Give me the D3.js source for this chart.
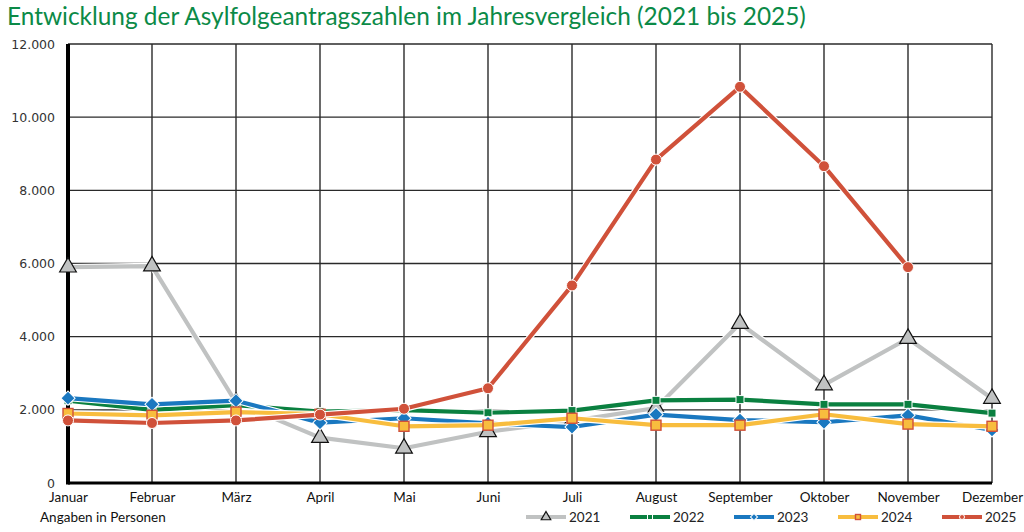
<!DOCTYPE html>
<html>
<head>
<meta charset="utf-8">
<script src="https://cdn.jsdelivr.net/npm/d3@7.9.0/dist/d3.min.js"></script>
<style>
  body { margin: 0; background: #fff; }
  svg { display: block; }
</style>
</head>
<body>
<svg width="1024" height="532"></svg>
<script>
const months = ['Januar', 'Februar', 'März', 'April', 'Mai', 'Juni', 'Juli',
  'August', 'September', 'Oktober', 'November', 'Dezember'];
const yTicks = [0, 2000, 4000, 6000, 8000, 10000, 12000];

const v2021 = [5900, 5930, 2200, 1240, 950, 1400, 1700, 2050, 4360, 2680, 3950, 2310];
const v2022 = [2250, 2000, 2130, 1950, 1990, 1920, 1980, 2260, 2280, 2150, 2150, 1910];
const v2023 = [2320, 2150, 2250, 1650, 1770, 1630, 1530, 1870, 1720, 1660, 1850, 1450];
const v2024 = [1900, 1850, 1940, 1880, 1550, 1580, 1770, 1580, 1580, 1880, 1610, 1550];
const v2025 = [1710, 1640, 1710, 1870, 2030, 2590, 5400, 8840, 10830, 8660, 5900];

const series = [
  { name: '2021', values: v2021, color: '#c0c2c2', marker: 'triangle' },
  { name: '2022', values: v2022, color: '#0a8040', marker: 'square' },
  { name: '2023', values: v2023, color: '#1a78c0', marker: 'diamond' },
  { name: '2024', values: v2024, color: '#f8bd3e', marker: 'square2' },
  { name: '2025', values: v2025, color: '#d0513a', marker: 'circle' }
];

const svg = d3.select('svg');
const margin = { left: 68, right: 32, top: 44, bottom: 49 };
const W = 1024, H = 532;

const x = d3.scalePoint().domain(months).range([margin.left, W - margin.right]);
const y = d3.scaleLinear().domain([0, 12000]).range([H - margin.bottom, margin.top]);
const fmt = d3.format(',');
const deFmt = v => fmt(v).replace(/,/g, '.');

// title
svg.append('text')
  .attr('x', 7).attr('y', 25)
  .attr('fill', '#0b8a47')
  .style('font-family', 'Lato, sans-serif')
  .style('font-size', '24.4px')
  .text('Entwicklung der Asylfolgeantragszahlen im Jahresvergleich (2021 bis 2025)');

// grid
const grid = svg.append('g');
grid.selectAll('.hg').data(yTicks.slice(1)).join('line')
  .attr('x1', margin.left).attr('x2', W - margin.right)
  .attr('y1', d => y(d)).attr('y2', d => y(d))
  .attr('stroke', '#2a2a2a').attr('stroke-width', 1.4);
grid.selectAll('.vg').data(months.slice(1)).join('line')
  .attr('x1', d => x(d)).attr('x2', d => x(d))
  .attr('y1', y(12000)).attr('y2', y(0))
  .attr('stroke', '#2a2a2a').attr('stroke-width', 1.4);

// axes
const yAxis = svg.append('g')
  .attr('transform', `translate(${margin.left},0)`)
  .call(d3.axisLeft(y).tickValues(yTicks).tickFormat(deFmt).tickSize(0).tickPadding(13));
yAxis.select('.domain').remove();
yAxis.selectAll('text')
  .style('font-family', '"DejaVu Sans", sans-serif')
  .style('font-size', '12.5px')
  .attr('fill', '#333');

const xAxis = svg.append('g')
  .attr('transform', `translate(0,${y(0)})`)
  .call(d3.axisBottom(x).tickSize(0).tickPadding(9));
xAxis.select('.domain').remove();
xAxis.selectAll('text')
  .style('font-family', 'Lato, sans-serif')
  .style('font-size', '13.5px')
  .attr('fill', '#111');

svg.append('line')
  .attr('x1', margin.left).attr('x2', W - margin.right)
  .attr('y1', y(0)).attr('y2', y(0))
  .attr('stroke', '#000').attr('stroke-width', 3);
svg.append('line')
  .attr('x1', margin.left).attr('x2', margin.left)
  .attr('y1', y(12000)).attr('y2', y(0) + 1.5)
  .attr('stroke', '#000').attr('stroke-width', 4);

// markers
function drawMarker(g, type, color, size) {
  const s = size;
  if (type === 'triangle') {
    g.append('path')
      .attr('d', d3.symbol(d3.symbolTriangle, s * s * 1.1)())
      .attr('fill', color).attr('stroke', '#111').attr('stroke-width', 1.2);
  } else if (type === 'square') {
    g.append('rect').attr('x', -s / 2).attr('y', -s / 2).attr('width', s).attr('height', s)
      .attr('fill', color).attr('stroke', '#fff').attr('stroke-width', 1);
  } else if (type === 'diamond') {
    g.append('rect').attr('x', -s / 2).attr('y', -s / 2).attr('width', s).attr('height', s)
      .attr('transform', 'rotate(45)')
      .attr('fill', color).attr('stroke', '#fff').attr('stroke-width', 1);
  } else if (type === 'square2') {
    g.append('rect').attr('x', -s / 2).attr('y', -s / 2).attr('width', s).attr('height', s)
      .attr('fill', color).attr('stroke', '#d0513a').attr('stroke-width', 1.4);
  } else {
    g.append('circle').attr('r', s / 2)
      .attr('fill', color).attr('stroke', '#fff').attr('stroke-width', 1);
  }
}

const markerSize = { triangle: 10.5, square: 8, diamond: 10, square2: 10, circle: 11 };

const line = d3.line().x((d, i) => x(months[i])).y(d => y(d));

series.forEach(s => {
  const g = svg.append('g');
  g.append('path').attr('d', line(s.values))
    .attr('fill', 'none').attr('stroke', '#fff').attr('stroke-width', 6.5)
    .attr('stroke-linejoin', 'round');
  g.append('path').attr('d', line(s.values))
    .attr('fill', 'none').attr('stroke', s.color).attr('stroke-width', 4.2)
    .attr('stroke-linejoin', 'round');
  s.values.forEach((v, i) => {
    const m = g.append('g').attr('transform', `translate(${x(months[i])},${y(v)})`);
    drawMarker(m, s.marker, s.color, markerSize[s.marker]);
  });
});

// footer note
svg.append('text')
  .attr('x', 40).attr('y', 522)
  .style('font-family', 'Lato, sans-serif')
  .style('font-size', '13.5px')
  .attr('fill', '#111')
  .text('Angaben in Personen');

// legend
const legendX = [526, 630, 734, 838, 942];
series.forEach((s, i) => {
  const g = svg.append('g').attr('transform', `translate(${legendX[i]},517)`);
  g.append('line').attr('x1', 0).attr('x2', 40).attr('y1', 0).attr('y2', 0)
    .attr('stroke', s.color).attr('stroke-width', 4);
  const m = g.append('g').attr('transform', 'translate(20,0)');
  drawMarker(m, s.marker, s.color, s.marker === 'triangle' ? 6 : 5);
  g.append('text').attr('x', 43).attr('y', 5)
    .style('font-family', 'Lato, sans-serif')
    .style('font-size', '13.5px')
    .attr('fill', '#222')
    .text(s.name);
});
</script>
</body>
</html>
